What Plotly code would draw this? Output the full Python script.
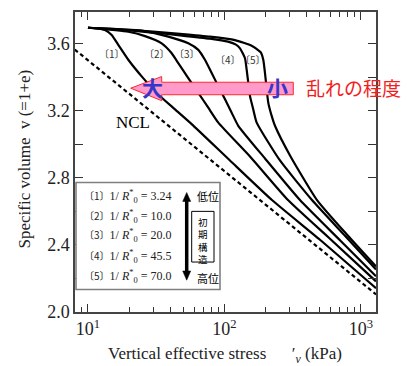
import plotly.graph_objects as go

# ---------------- data ----------------
stress_1 = [10, 12.24, 13.32, 14.92, 16.67, 19.74, 24.74, 32.73, 43.4, 57.5, 109.7, 222.8, 500.7, 1288]
v_1 = [3.696, 3.691, 3.682, 3.653, 3.594, 3.505, 3.406, 3.298, 3.209, 3.121, 2.904, 2.668, 2.431, 2.142]

stress_2 = [10, 19.74, 26.16, 34.67, 41.05, 45.87, 54.3, 64.3, 76.1, 90.1, 153.8, 291.9, 592.8, 1288]
v_2 = [3.696, 3.672, 3.646, 3.603, 3.544, 3.485, 3.396, 3.308, 3.219, 3.130, 2.928, 2.668, 2.437, 2.183]

stress_3 = [10, 24.74, 38.76, 54.3, 64.3, 71.9, 80.6, 90.1, 100.9, 112.9, 126.2, 198.1, 357.3, 701.9, 1288]
v_3 = [3.696, 3.679, 3.643, 3.603, 3.564, 3.505, 3.426, 3.347, 3.269, 3.189, 3.111, 2.916, 2.668, 2.428, 2.213]

stress_4 = [10, 17.16, 28.46, 47.2, 78.3, 106.1, 121.4, 129.9, 141.3, 145.4, 149.4, 153.8, 162.5, 172.2, 255.0, 437.5, 763.5, 1288]
v_4 = [3.696, 3.684, 3.669, 3.651, 3.631, 3.613, 3.595, 3.573, 3.514, 3.446, 3.367, 3.288, 3.209, 3.130, 2.904, 2.668, 2.455, 2.254]

stress_5 = [10, 17.16, 28.46, 47.2, 78.3, 119.4, 158.2, 182.0, 185.1, 192.4, 198.1, 203.8, 209.4, 221.7, 234.4, 302.0, 476.3, 803.2, 1288]
v_5 = [3.696, 3.687, 3.675, 3.660, 3.643, 3.622, 3.589, 3.554, 3.548, 3.505, 3.426, 3.328, 3.248, 3.170, 3.111, 2.934, 2.668, 2.455, 2.272]

ncl_stress = [8.0, 1290]
ncl_v = [3.566, 2.105]

curve_labels = ["〔1〕", "〔2〕", "〔3〕", "〔4〕", "〔5〕"]
inv_R0 = ["3.24", "10.0", "20.0", "45.5", "70.0"]

x_tickvals = [10, 100, 1000]
x_ticktext = ["10<sup>1</sup>", "10<sup>2</sup>", "10<sup>3</sup>"]
x_minor = [9] + [m * 10 for m in range(2, 10)] + [m * 100 for m in range(2, 10)]
y_tickvals = [2.0, 2.4, 2.8, 3.2, 3.6]
y_minor = [2.2, 2.6, 3.0, 3.4]

SERIF = "Liberation Serif, Times New Roman, serif"
CJK = "Noto Sans CJK JP"

fig = go.Figure()
for s, v in [(stress_1, v_1), (stress_2, v_2), (stress_3, v_3), (stress_4, v_4), (stress_5, v_5)]:
    fig.add_trace(go.Scatter(x=s, y=v, mode="lines",
                             line=dict(color="black", width=2.2, shape="spline", smoothing=0.5),
                             showlegend=False, hoverinfo="skip"))
fig.add_trace(go.Scatter(x=ncl_stress, y=ncl_v, mode="lines",
                         line=dict(color="black", width=2.2, dash="4px,3px"),
                         showlegend=False, hoverinfo="skip"))

# ---------- helpers for paper coords ----------
L, R, T, B = 75, 376, 10, 312


def px(xp):
    return (xp - L) / (R - L)


def py(yp):
    return (B - yp) / (B - T)


shapes = []
# pink arrow
pts = [(130.7, 86.7), (161.7, 75), (161.7, 80.7), (293.3, 80.7), (293.3, 93.3),
       (161.7, 93.3), (161.7, 99.3)]
path = "M " + " L ".join(f"{px(a):.4f},{py(b):.4f}" for a, b in pts) + " Z"
shapes.append(dict(type="path", xref="paper", yref="paper", path=path,
                   fillcolor="#ff9acb", line=dict(color="#ff2a2a", width=1)))
# legend box
shapes.append(dict(type="rect", xref="paper", yref="paper", x0=px(76), x1=px(220),
                   y0=py(289.3), y1=py(181.7), fillcolor="white",
                   line=dict(color="#808080", width=1.6), layer="above"))
# vertical double arrow
ax_ = 186.7
shapes.append(dict(type="line", xref="paper", yref="paper", x0=px(ax_), x1=px(ax_),
                   y0=py(272), y1=py(199), line=dict(color="black", width=3.5), layer="above"))
for tip, base in [(191.7, 200.7), (280, 270.7)]:
    p = (f"M {px(ax_):.4f},{py(tip):.4f} L {px(ax_ - 4):.4f},{py(base):.4f} "
         f"L {px(ax_ + 4):.4f},{py(base):.4f} Z")
    shapes.append(dict(type="path", xref="paper", yref="paper", path=p,
                       fillcolor="black", line=dict(color="black", width=0.5), layer="above"))
# 初期構造 box
shapes.append(dict(type="rect", xref="paper", yref="paper", x0=px(191.7), x1=px(214),
                   y0=py(261.7), y1=py(210.7), fillcolor="white",
                   line=dict(color="black", width=1), layer="above"))

ann = []


def note(text, xx, yy, size, family, color, xanchor="center", **kw):
    ann.append(dict(text=text, x=px(xx), y=py(yy), xref="paper", yref="paper", showarrow=False,
                    xanchor=xanchor, yanchor="middle",
                    font=dict(family=family, size=size, color=color), **kw))


# curve labels
for lab, (xx, yy) in zip(curve_labels, [(112, 52), (157, 52), (187, 52), (228.3, 57.7), (253.3, 57.7)]):
    note(lab, xx, yy, 10, CJK, "#333333")
note("NCL", 132.5, 121.7, 17, SERIF, "black")
note("<b>大</b>", 152.5, 86, 21, CJK, "#3636c8")
note("<b>小</b>", 277.5, 86, 21, CJK, "#3636c8")
note("乱れの程度", 304, 86, 19, CJK, "#f01e1e", xanchor="left")
# legend rows
for i, (lab, val) in enumerate(zip(curve_labels, inv_R0)):
    yy = [196, 215.7, 235, 256, 276.7][i]
    note(f"<span style=\"font-family:'{CJK}';font-size:10px\">{lab}</span>"
         f"1/ <i>R</i><sup>*</sup><sub>0</sub> = {val}", 82, yy, 12, SERIF, "#222222",
         xanchor="left")
note("低位", 195, 195, 11, CJK, "black", xanchor="left")
note("高位", 195, 278, 11, CJK, "black", xanchor="left")
note("<br>".join("初期構造"), 202.8, 240, 9.5, CJK, "black")
# axis titles
note("Vertical effective stress\u00a0\u00a0\u00a0\u00a0\u00a0\u00a0′<sub><i>v</i></sub> (kPa)",
     224.5, 355, 17, SERIF, "#222222")
note("Specific volume\u00a0\u00a0v (=1+e)", 25, 158.5, 17, SERIF, "#222222", textangle=-90)

fig.update_layout(
    width=414, height=366,
    margin=dict(l=L, r=414 - R, t=T, b=366 - B),
    paper_bgcolor="white", plot_bgcolor="white",
    shapes=shapes, annotations=ann, showlegend=False,
    xaxis=dict(type="log", range=[0.905, 3.110], tickvals=x_tickvals, ticktext=x_ticktext,
               ticks="inside", ticklen=8, tickwidth=1.2, tickcolor="#333",
               showline=True, linecolor="#444", linewidth=1.5, mirror="allticks",
               showgrid=False, zeroline=False,
               tickfont=dict(family=SERIF, size=18, color="#222222"),
               minor=dict(tickvals=x_minor, ticks="inside", ticklen=5, tickwidth=1.2,
                          tickcolor="#333", showgrid=False)),
    yaxis=dict(range=[2.0, 3.79], tickvals=y_tickvals, ticktext=[f"{t:.1f}" for t in y_tickvals],
               ticks="inside", ticklen=8, tickwidth=1.2, tickcolor="#333",
               showline=True, linecolor="#444", linewidth=1.5, mirror="allticks",
               showgrid=False, zeroline=False,
               tickfont=dict(family=SERIF, size=18, color="#222222"),
               minor=dict(tickvals=y_minor, ticks="inside", ticklen=8, tickwidth=1.2,
                          tickcolor="#333", showgrid=False)),
)

fig.write_html("out.html")
